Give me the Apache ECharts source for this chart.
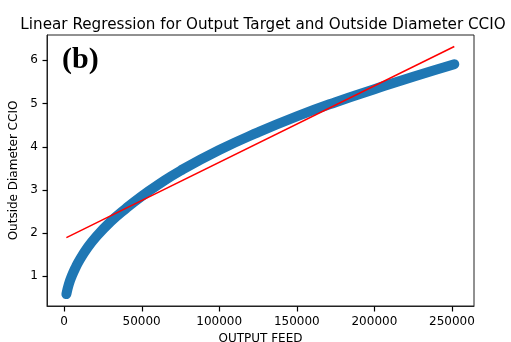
<!DOCTYPE html>
<html><head><meta charset="utf-8">
<script src="https://cdn.jsdelivr.net/npm/echarts@6/dist/echarts.min.js"></script>
<style>html,body{margin:0;padding:0;background:#fff}#c{width:511px;height:342px}</style>
</head><body><div id="c"></div>
<script>
const feed = [1500, 3000, 5000, 7500, 10000, 15000, 20000, 30000, 40000, 50000, 60000, 75000, 100000, 125000, 150000, 175000, 200000, 225000, 251500];
const diameter = [0.58, 0.80, 1.00, 1.20, 1.37, 1.65, 1.88, 2.26, 2.57, 2.85, 3.10, 3.44, 3.92, 4.33, 4.70, 5.03, 5.33, 5.62, 5.91];
const fitX = [1500, 251500];
const fitY = [1.89, 6.32];
const xTicks = [0, 50000, 100000, 150000, 200000, 250000];
const yTicks = [1, 2, 3, 4, 5, 6];
const xMin = -11000, xMax = 264200, yMin = 0.304, yMax = 6.587;

const font = 'DejaVu Sans';
const chart = echarts.init(document.getElementById('c'), null, {renderer: 'canvas'});
function tickSeries(data, horizontal) {
  return {
    type: 'custom', coordinateSystem: 'cartesian2d', clip: false, silent: true, z: 10,
    encode: {x: 0, y: 1},
    data: data,
    renderItem: (params, api) => {
      const p = api.coord([api.value(0), api.value(1)]);
      const x = Math.round(p[0]) + 0.5, y = Math.round(p[1]) + 0.5;
      const shape = horizontal
        ? {x1: x, y1: y, x2: x - 5, y2: y}
        : {x1: x, y1: y, x2: x, y2: y + 5};
      return {type: 'line', shape: shape, style: {stroke: '#000', lineWidth: 1.2}};
    }
  };
}
chart.setOption({
  animation: false,
  backgroundColor: '#fff',
  title: {
    text: 'Linear Regression for Output Target and Outside Diameter CCIO',
    left: 258, top: 13, textAlign: 'center',
    textStyle: {fontFamily: font, fontSize: 15.2, fontWeight: 'normal', color: '#000'}
  },
  grid: {left: 47, right: 37, top: 35, bottom: 36, show: true, borderColor: '#222', borderWidth: 1,
    containLabel: false, outerBoundsMode: 'none'},
  xAxis: {
    type: 'value', min: xMin, max: xMax, splitNumber: 5,
    name: 'OUTPUT FEED', nameLocation: 'middle', nameGap: 26,
    nameTextStyle: {fontFamily: font, fontSize: 12, color: '#000'},
    axisLine: {show: true, onZero: false, lineStyle: {color: '#222', width: 1}},
    axisTick: {show: false},
    axisLabel: {fontFamily: font, fontSize: 12, color: '#000', margin: 10,
      showMinLabel: false, showMaxLabel: false,
      formatter: v => xTicks.includes(v) ? String(v) : ''},
    splitLine: {show: false}
  },
  yAxis: {
    type: 'value', min: yMin, max: yMax, splitNumber: 5,
    name: 'Outside Diameter CCIO', nameLocation: 'middle', nameGap: 23,
    nameTextStyle: {fontFamily: font, fontSize: 12, color: '#000'},
    axisLine: {show: true, onZero: false, lineStyle: {color: '#222', width: 1}},
    axisTick: {show: false},
    axisLabel: {fontFamily: font, fontSize: 12, color: '#000', margin: 9,
      showMinLabel: false, showMaxLabel: false,
      formatter: v => yTicks.includes(v) ? String(v) : ''},
    splitLine: {show: false}
  },
  graphic: [{
    type: 'text', left: 62, top: 45,
    style: {text: '(b)', font: 'bold 30px "Liberation Serif"', fill: '#000'}
  }],
  series: [
    {
      type: 'line', smooth: true, symbol: 'none',
      data: feed.map((x, i) => [x, diameter[i]]),
      lineStyle: {color: '#1f77b4', width: 10, cap: 'round', join: 'round'},
      z: 2
    },
    {
      type: 'line', symbol: 'none',
      data: fitX.map((x, i) => [x, fitY[i]]),
      lineStyle: {color: '#ff0000', width: 1.5},
      z: 3
    },
    tickSeries(xTicks.map(v => [v, yMin]), false),
    tickSeries(yTicks.map(v => [xMin, v]), true)
  ]
});
</script></body></html>
